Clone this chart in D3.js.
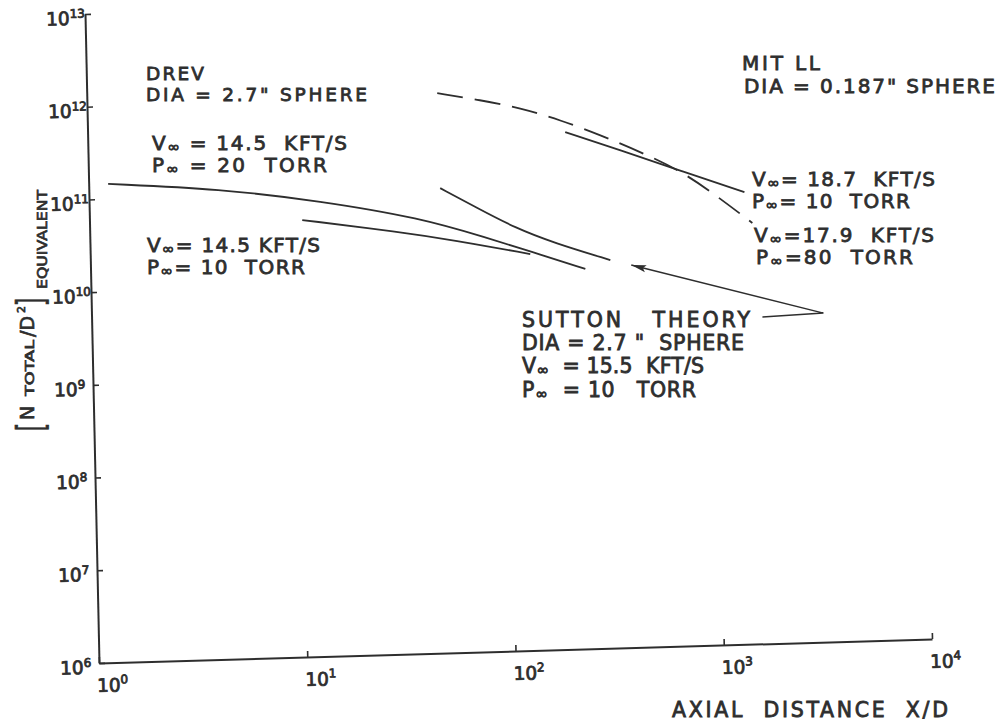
<!DOCTYPE html>
<html>
<head>
<meta charset="utf-8">
<script src="https://cdn.jsdelivr.net/npm/d3@7"></script>
<style>
  html, body { margin: 0; padding: 0; background: #fff; }
  svg text { font-family: "DejaVu Sans", sans-serif; fill: #2e2e2e; white-space: pre; }
</style>
</head>
<body>
<svg id="chart" width="1000" height="723"></svg>
<script>
// Decade ticks (log–log)
const xDecades = [1, 10, 100, 1000, 10000];
const xExponents = ["0", "1", "2", "3", "4"];
const yDecades = [1e6, 1e7, 1e8, 1e9, 1e10, 1e11, 1e12, 1e13];
const yExponents = ["6", "7", "8", "9", "10", "11", "12", "13"];

// DREV, 2.7" sphere, 14.5 kft/s, 20 torr
const drev20X = [1.24, 4.27, 12.85, 38.7, 80.7, 132, 237];
const drev20Y = [1.45e11, 1.18e11, 8.15e10, 4.98e10, 2.89e10, 1.98e10, 1.25e10];
// DREV, 2.7" sphere, 14.5 kft/s, 10 torr
const drev10X = [10.5, 30.9, 55.4, 129.4];
const drev10Y = [5.15e10, 3.57e10, 2.81e10, 1.88e10];
// Sutton theory, 2.7" sphere, 15.5 kft/s, 10 torr
const suttonX = [48.6, 72.8, 110.4, 169.2, 313];
const suttonY = [1.03e11, 6.12e10, 3.63e10, 2.43e10, 1.53e10];
// MIT LL, 0.187" sphere, 18.7 kft/s, 10 torr
const mit187X = [196, 359, 701, 1400];
const mit187Y = [3.79e11, 2.33e11, 1.32e11, 7.52e10];
// MIT LL, 0.187" sphere, 17.9 kft/s, 80 torr (dashed)
const mit179X = [48.1, 77.3, 120, 186, 289, 448, 701, 1015, 1517];
const mit179Y = [1.09e12, 8.9e11, 7.1e11, 5.13e11, 3.43e11, 2.19e11, 1.32e11, 7.14e10, 3.47e10];

// Pointer from the Sutton caption to its curve: tip, elbow, caption end
const pointerX = [394, 3256, 1658];
const pointerY = [1.33e10, 3.52e9, 3.34e9];

const ink = "#2e2e2e";
const W = 833, H = 649;

const svg = d3.select("#chart");

const x = d3.scaleLog().domain([1, 1e4]).range([0, W]);
const y = d3.scaleLog().domain([1e6, 1e13]).range([H, 0]);

// The hand-drawn frame is slightly sheared; the plot group carries that.
const plot = svg.append("g")
  .attr("transform", "matrix(1,-0.02881,0.02157,1,85,14)");

// Y axis
const gy = plot.append("g")
  .call(d3.axisLeft(y).tickValues(yDecades).tickSizeInner(-6).tickSizeOuter(0).tickFormat(() => ""));
gy.select(".domain").attr("stroke", ink).attr("stroke-width", 2);
gy.selectAll(".tick line").attr("stroke", ink).attr("stroke-width", 1.6);
gy.selectAll(".tick text").each(function (d, i) {
  const t = d3.select(this)
    .attr("x", -39).attr("y", 10).attr("dy", null)
    .attr("text-anchor", "start").attr("font-size", 18.5)
    .attr("stroke", ink).attr("stroke-width", 0.8);
  t.append("tspan").text("10");
  t.append("tspan").attr("dy", -7).attr("font-size", 12).text(yExponents[i]);
});

// X axis
const gx = plot.append("g")
  .attr("transform", `translate(0,${H})`)
  .call(d3.axisBottom(x).tickValues(xDecades).tickSizeInner(-6).tickSizeOuter(0).tickFormat(() => ""));
gx.select(".domain").attr("stroke", ink).attr("stroke-width", 2);
gx.selectAll(".tick line").attr("stroke", ink).attr("stroke-width", 1.6);
gx.selectAll(".tick text").each(function (d, i) {
  const t = d3.select(this)
    .attr("x", -3).attr("y", 29).attr("dy", null)
    .attr("text-anchor", "start").attr("font-size", 18.5)
    .attr("stroke", ink).attr("stroke-width", 0.8);
  t.append("tspan").text("10");
  t.append("tspan").attr("dy", -8).attr("font-size", 12).text(xExponents[i]);
});

// Curves
const line = d3.line()
  .x(d => x(d[0]))
  .y(d => y(d[1]))
  .curve(d3.curveBasis);

const series = [
  { xs: drev20X, ys: drev20Y, dash: null },
  { xs: drev10X, ys: drev10Y, dash: null },
  { xs: suttonX, ys: suttonY, dash: null },
  { xs: mit187X, ys: mit187Y, dash: null },
  { xs: mit179X, ys: mit179Y, dash: "26,12" }
];

plot.selectAll("path.series")
  .data(series)
  .join("path")
  .attr("class", "series")
  .attr("d", s => line(d3.zip(s.xs, s.ys)))
  .attr("fill", "none")
  .attr("stroke", ink)
  .attr("stroke-width", 1.8)
  .attr("stroke-dasharray", s => s.dash);

// Pointer with arrowhead
svg.append("defs").append("marker")
  .attr("id", "head")
  .attr("viewBox", "0 -5 15 10")
  .attr("refX", 15).attr("refY", 0)
  .attr("markerWidth", 15).attr("markerHeight", 10)
  .attr("markerUnits", "userSpaceOnUse")
  .attr("orient", "auto-start-reverse")
  .append("path")
  .attr("d", "M0,-3.6L15,0L0,3.6L3,0Z")
  .attr("fill", ink);

plot.append("path")
  .attr("d", d3.line().x(d => x(d[0])).y(d => y(d[1]))(d3.zip(pointerX, pointerY)))
  .attr("fill", "none")
  .attr("stroke", ink)
  .attr("stroke-width", 1.5)
  .attr("marker-start", "url(#head)");

// Annotation text; "~" marks the subscript infinity
function label(px, py, str, width, size) {
  const fs = size || 20;
  const t = svg.append("text")
    .attr("x", px).attr("y", py)
    .attr("font-size", fs)
    .attr("stroke", ink).attr("stroke-width", 0.8)
    .attr("xml:space", "preserve");
  const parts = str.split("~");
  parts.forEach((p, i) => {
    if (i > 0) {
      t.append("tspan").attr("dy", 2).attr("font-size", fs * 0.75).text("\u221E");
      t.append("tspan").attr("dy", -2).text(p);
    } else {
      t.append("tspan").text(p);
    }
  });
  if (width) t.attr("textLength", width).attr("lengthAdjust", "spacing");
  return t;
}

label(146, 80, "DREV", 58, 18.5);
label(146, 101, "DIA = 2.7\" SPHERE", 221, 18.5);
label(152, 150, "V~ = 14.5  KFT/S", 195);
label(152, 172, "P~ = 20  TORR", 175);
label(147, 252, "V~= 14.5 KFT/S", 173);
label(147, 274, "P~= 10  TORR", 158);

label(742, 70, "MIT LL", 78);
label(744, 93, "DIA = 0.187\" SPHERE", 251);
label(752, 186, "V~= 18.7  KFT/S", 183);
label(752, 208, "P~= 10  TORR", 158);
label(754, 242, "V~=17.9  KFT/S", 180);
label(756, 264, "P~=80  TORR", 157);

label(522, 327, "SUTTON   THEORY", 228, 20.5);
label(522, 350, "DIA = 2.7 \"  SPHERE", 222, 20.5);
label(522, 373, "V~  = 15.5  KFT/S", 182, 20.5);
label(522, 397, "P~  = 10   TORR", 174, 20.5);

// Axis titles
label(672, 717, "AXIAL  DISTANCE  X/D", 276, 20.5);

const yt = svg.append("g").attr("transform", "translate(34,432) rotate(-90)");
function piece(u, v, str, size, len) {
  const t = yt.append("text").attr("x", u).attr("y", v)
    .attr("font-size", size).attr("stroke", ink).attr("stroke-width", 0.7).text(str);
  if (len) t.attr("textLength", len).attr("lengthAdjust", "spacingAndGlyphs");
  return t;
}
piece(1, 9, "[", 38, 8);
piece(12, 0, "N", 19);
piece(36, 0, "TOTAL", 12, 56);
piece(95, 0, "/D", 19);
piece(119, -9, "2", 11);
piece(126, 9, "]", 38, 8);
piece(143, 13, "EQUIVALENT", 14, 99);
</script>
</body>
</html>
